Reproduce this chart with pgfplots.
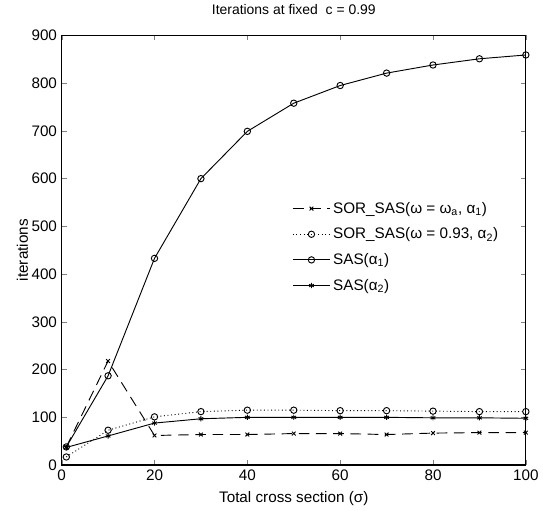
\documentclass[border=0pt]{standalone}
\usepackage{pgfplots}
\pgfplotsset{compat=1.18}
\usepackage{fontspec}
\setmainfont{Liberation Sans}

\begin{document}
\begin{tikzpicture}
	\begin{axis}[
		scale only axis, width=350pt, height=324pt,
		xmin=0, xmax=100, ymin=0, ymax=900,
		xtick={0,20,...,100}, ytick={0,100,...,900},
		tick align=inside, tick pos=both,
		major tick length=3.75pt,
		/pgf/number format/assume math mode=true,
		tick label style={font=\fontsize{11.5}{13}\selectfont},
		label style={font=\fontsize{11.5}{13}\selectfont},
		title style={font=\fontsize{10.5}{12}\selectfont, at={(axis description cs:0.5,1)}, anchor=center, yshift=13.5pt},
		title={Iterations at fixed\ \ c = 0.99},
		xlabel={Total cross section (σ)},
		ylabel={iterations},
		xlabel style={at={(axis description cs:0.5,0)}, anchor=center, yshift=-25pt},
		ylabel style={at={(axis description cs:0,0.5)}, anchor=center, yshift=29.5pt},
		axis line style={line width=0.9pt},
		every axis plot/.append style={line width=0.7pt, black},
		legend style={draw=none, fill=none, at={(0.488,0.625)}, anchor=north west,
			font=\fontsize{11.5}{13}\selectfont, row sep=5.5pt},
		legend cell align=left,
		legend image code/.code={
			\draw[mark repeat=2, mark phase=2] plot coordinates {(0pt,0pt) (14pt,0pt) (28pt,0pt)};
		},
	]
		\addplot[dash pattern=on 8pt off 5pt, mark=x, mark size=2pt, mark options={solid}] coordinates {
			(1,38) (10,218) (20,62) (30,64) (40,64) (50,66) (60,66) (70,64) (80,67) (90,68) (100,68)
		};
		\addplot[dotted, mark=o, mark size=2.4pt, mark options={solid}] coordinates {
			(1,17) (10,73) (20,101) (30,112) (40,115) (50,115) (60,114) (70,114) (80,113) (90,112) (100,112)
		};
		\addplot[mark=o, mark size=2.4pt] coordinates {
			(1,38) (10,187) (20,433) (30,600) (40,699) (50,758) (60,795) (70,821) (80,838) (90,851) (100,859)
		};
		\addplot[mark=asterisk, mark size=2pt] coordinates {
			(1,37) (10,61) (20,88) (30,97) (40,100) (50,100) (60,100) (70,100) (80,99) (90,99) (100,98)
		};
		\legend{{SOR\_SAS(ω = ω\textsubscript{a}, α\textsubscript{1})},
			{SOR\_SAS(ω = 0.93, α\textsubscript{2})},
			{SAS(α\textsubscript{1})},
			{SAS(α\textsubscript{2})}}
	\end{axis}
	% white margin as in the reference image
	\path (current axis.south west) ++(-46.5pt,-34.5pt);
	\path (current axis.north east) ++(10.5pt,24pt);
\end{tikzpicture}
\end{document}
